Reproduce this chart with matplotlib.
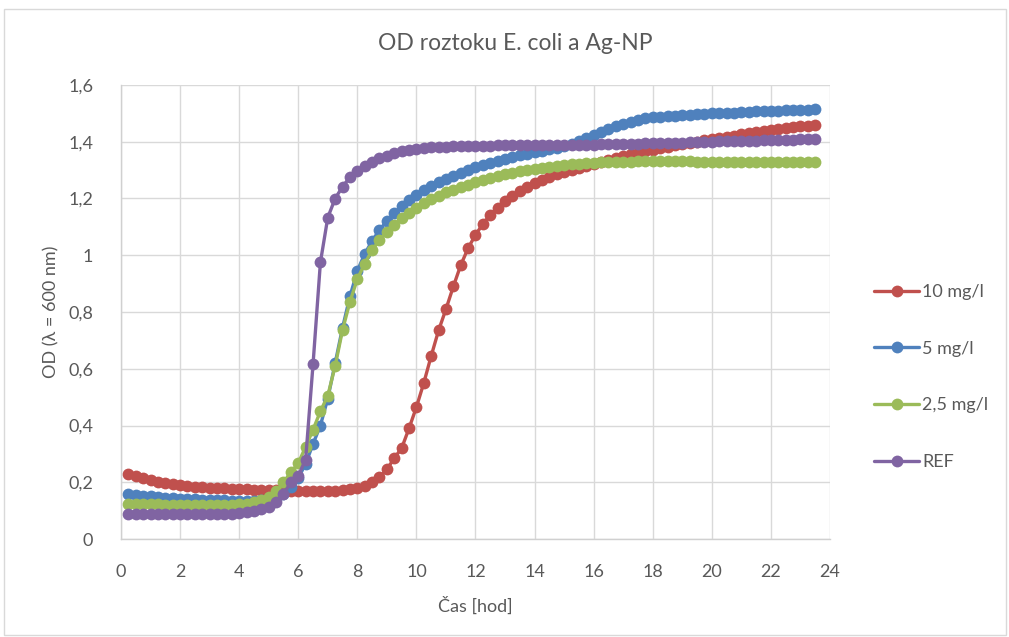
import numpy as np
import matplotlib
matplotlib.use('Agg')
import matplotlib.pyplot as plt
from matplotlib.ticker import FuncFormatter, MultipleLocator
from matplotlib.patches import Rectangle

# ------------------------------ data -------------------------------------
# sampling grid: every 15 min from 0.25 h to 23.5 h
hours = np.arange(0.25, 23.51, 0.25)

od_10 = [0.228, 0.222, 0.215, 0.208, 0.202, 0.197, 0.193, 0.190, 0.187, 0.185, 0.183, 0.181,
         0.180, 0.178, 0.177, 0.176, 0.175, 0.174, 0.173, 0.172, 0.172, 0.171, 0.170, 0.170,
         0.170, 0.169, 0.169, 0.169, 0.170, 0.172, 0.175, 0.180, 0.188, 0.200, 0.218, 0.245,
         0.285, 0.320, 0.390, 0.465, 0.550, 0.645, 0.735, 0.810, 0.890, 0.965, 1.025, 1.072,
         1.110, 1.143, 1.168, 1.190, 1.210, 1.226, 1.242, 1.255, 1.266, 1.276, 1.285, 1.293,
         1.300, 1.307, 1.314, 1.320, 1.328, 1.335, 1.342, 1.350, 1.356, 1.362, 1.367, 1.372,
         1.377, 1.382, 1.387, 1.392, 1.396, 1.400, 1.405, 1.410, 1.414, 1.418, 1.422, 1.426,
         1.430, 1.434, 1.438, 1.441, 1.445, 1.448, 1.451, 1.454, 1.457, 1.460]

od_5 = [0.160, 0.156, 0.153, 0.150, 0.148, 0.146, 0.144, 0.142, 0.141, 0.140, 0.139, 0.138,
        0.137, 0.136, 0.135, 0.134, 0.134, 0.135, 0.138, 0.142, 0.148, 0.160, 0.185, 0.215,
        0.265, 0.335, 0.400, 0.495, 0.620, 0.745, 0.855, 0.945, 1.005, 1.050, 1.090, 1.120,
        1.148, 1.172, 1.195, 1.213, 1.230, 1.244, 1.257, 1.270, 1.280, 1.290, 1.300, 1.310,
        1.318, 1.325, 1.333, 1.340, 1.346, 1.352, 1.358, 1.363, 1.368, 1.373, 1.378, 1.385,
        1.393, 1.403, 1.414, 1.425, 1.435, 1.445, 1.455, 1.463, 1.471, 1.478, 1.482, 1.486,
        1.488, 1.490, 1.492, 1.494, 1.496, 1.497, 1.499, 1.500, 1.501, 1.502, 1.503, 1.505,
        1.506, 1.507, 1.508, 1.509, 1.510, 1.511, 1.512, 1.513, 1.513, 1.514]

od_2_5 = [0.125, 0.124, 0.123, 0.122, 0.122, 0.121, 0.121, 0.120, 0.120, 0.120, 0.120, 0.119,
          0.119, 0.119, 0.120, 0.122, 0.125, 0.130, 0.137, 0.147, 0.168, 0.200, 0.235, 0.267,
          0.325, 0.385, 0.450, 0.505, 0.610, 0.737, 0.836, 0.916, 0.970, 1.018, 1.054, 1.083,
          1.107, 1.130, 1.150, 1.167, 1.183, 1.198, 1.210, 1.222, 1.231, 1.240, 1.249, 1.257,
          1.265, 1.272, 1.279, 1.285, 1.291, 1.296, 1.301, 1.305, 1.309, 1.312, 1.315, 1.318,
          1.320, 1.322, 1.324, 1.326, 1.327, 1.328, 1.329, 1.330, 1.330, 1.331, 1.331, 1.331,
          1.331, 1.331, 1.331, 1.331, 1.331, 1.330, 1.330, 1.330, 1.330, 1.330, 1.330, 1.330,
          1.330, 1.329, 1.329, 1.329, 1.329, 1.328, 1.328, 1.328, 1.328, 1.328]

od_ref = [0.088, 0.088, 0.087, 0.087, 0.087, 0.087, 0.087, 0.087, 0.087, 0.087, 0.087, 0.087,
          0.088, 0.088, 0.089, 0.092, 0.096, 0.100, 0.105, 0.113, 0.132, 0.158, 0.200, 0.223,
          0.280, 0.615, 0.975, 1.133, 1.200, 1.242, 1.275, 1.298, 1.316, 1.330, 1.342, 1.351,
          1.359, 1.366, 1.371, 1.375, 1.378, 1.380, 1.382, 1.383, 1.384, 1.385, 1.385, 1.386,
          1.386, 1.386, 1.387, 1.387, 1.387, 1.387, 1.387, 1.387, 1.388, 1.388, 1.388, 1.388,
          1.389, 1.389, 1.390, 1.390, 1.391, 1.391, 1.392, 1.392, 1.393, 1.393, 1.394, 1.395,
          1.395, 1.396, 1.397, 1.397, 1.398, 1.399, 1.399, 1.400, 1.401, 1.401, 1.402, 1.403,
          1.403, 1.404, 1.405, 1.405, 1.406, 1.407, 1.407, 1.408, 1.409, 1.410]

series_labels = ['10 mg/l', '5 mg/l', '2,5 mg/l', 'REF']
series_values = [od_10, od_5, od_2_5, od_ref]
series_colors = ['#c0504d', '#4f81bd', '#9bbb59', '#8064a2']
# -------------------------------------------------------------------------

TXT = '#595959'
plt.rcParams['font.family'] = ['Lato', 'DejaVu Sans']

fig = plt.figure(figsize=(10.09, 6.37), dpi=100)
ax = fig.add_axes([121 / 1009, 1 - 539 / 637, (830 - 121) / 1009, (539 - 85) / 637])

# light frame around the whole chart (Excel chart area)
fig.patches.append(Rectangle((4 / 1009, 2 / 637), 1002 / 1009, 626 / 637,
                             transform=fig.transFigure, fill=False,
                             edgecolor='#d9d9d9', lw=1.0))

for lab, vals, col in zip(series_labels, series_values, series_colors):
    ax.plot(hours, vals, color=col, lw=2.4, marker='o', ms=8.5,
            markeredgewidth=0, label=lab, solid_capstyle='round')

ax.set_xlim(0, 24)
ax.set_ylim(0, 1.6)
ax.xaxis.set_major_locator(MultipleLocator(2))
ax.yaxis.set_major_locator(MultipleLocator(0.2))
ax.yaxis.set_major_formatter(FuncFormatter(lambda v, _: f'{v:.1f}'.rstrip('0').rstrip('.').replace('.', ',')))
ax.grid(True, color='#d9d9d9', lw=1.0)
ax.set_axisbelow(True)
for side in ['top', 'right']:
    ax.spines[side].set_visible(False)
for side in ['left', 'bottom']:
    ax.spines[side].set_color('#d0d0d0')
    ax.spines[side].set_linewidth(1.0)
ax.tick_params(length=0, labelsize=13, colors=TXT)
ax.tick_params(axis='x', pad=18)
ax.tick_params(axis='y', pad=20)

ax.set_xlabel('Čas [hod]', fontsize=13, color=TXT, labelpad=12)
ax.set_ylabel('OD (λ = 600 nm)', fontsize=13, color=TXT, labelpad=6)
fig.text(515 / 1009, 1 - 43 / 637, 'OD roztoku E. coli a Ag-NP', fontsize=16.5,
         color=TXT, ha='center', va='center')

leg = ax.legend(loc='center left', bbox_to_anchor=(858 / 1009, 1 - 377 / 637),
                bbox_transform=fig.transFigure, frameon=False, fontsize=13,
                labelcolor=TXT, handlelength=2.5, handletextpad=0.15,
                labelspacing=2.25)

fig.savefig('out.png', dpi=100)
